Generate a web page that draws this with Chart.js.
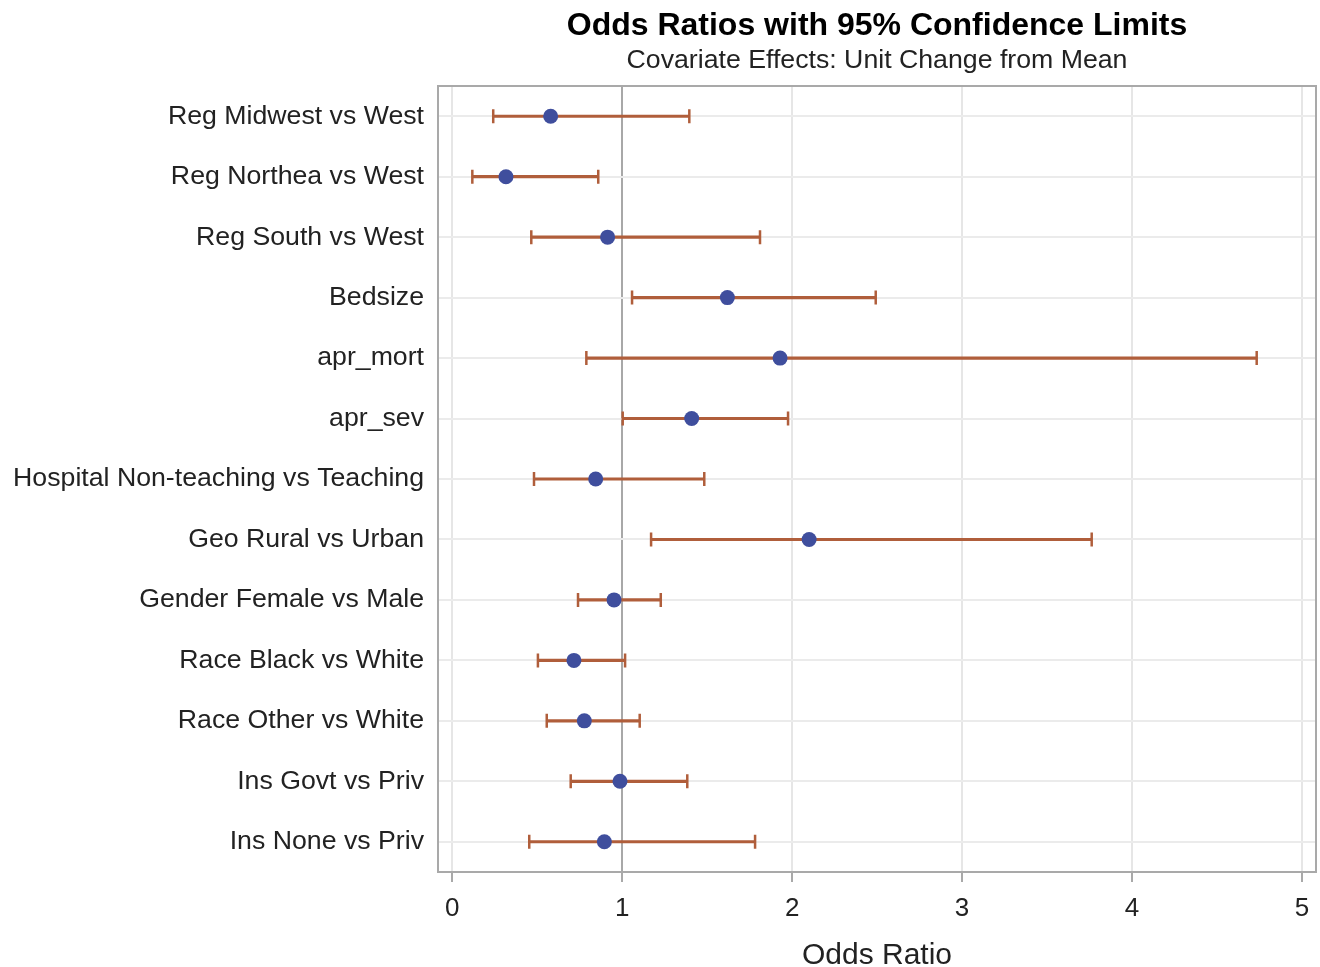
<!DOCTYPE html>
<html>
<head>
<meta charset="utf-8">
<title>Odds Ratios with 95% Confidence Limits</title>
<script src="https://cdn.jsdelivr.net/npm/chart.js@4"></script>
<style>
  html, body { margin: 0; padding: 0; background: #fff; }
  #wrap { width: 1320px; height: 967px; }
</style>
</head>
<body>
<div id="wrap"><canvas id="orChart"></canvas></div>
<script>
const effects = [
    'Reg Midwest vs West', 'Reg Northea vs West', 'Reg South vs West', 'Bedsize',
    'apr_mort', 'apr_sev', 'Hospital Non-teaching vs Teaching', 'Geo Rural vs Urban',
    'Gender Female vs Male', 'Race Black vs White', 'Race Other vs White',
    'Ins Govt vs Priv', 'Ins None vs Priv'
];
const oddsRatio = [0.579, 0.316, 0.914, 1.619, 1.929, 1.409, 0.844, 2.100, 0.952, 0.716, 0.777, 0.987, 0.895];
const lowerCL   = [0.241, 0.118, 0.465, 1.058, 0.789, 1.003, 0.481, 1.170, 0.740, 0.504, 0.556, 0.697, 0.453];
const upperCL   = [1.395, 0.859, 1.811, 2.492, 4.734, 1.976, 1.483, 3.763, 1.227, 1.017, 1.103, 1.383, 1.782];
const xTicks = [0, 1, 2, 3, 4, 5];

const FONT = "'Liberation Sans', Arial, sans-serif";
const ciColor = '#b05e3b';
const dotColor = '#3f4e9d';

// titles are centred over the plot area, plus the frame round it
const framePlugin = {
    id: 'frameAndTitles',
    afterDraw(chart) {
        const { ctx, chartArea: a } = chart;
        ctx.save();
        ctx.strokeStyle = '#a9a9a9';
        ctx.lineWidth = 2;
        ctx.strokeRect(a.left, a.top, a.right - a.left, a.bottom - a.top);
        const cx = (a.left + a.right) / 2;
        ctx.fillStyle = '#000';
        ctx.textAlign = 'center';
        ctx.textBaseline = 'middle';
        ctx.font = 'bold 32px ' + FONT;
        ctx.fillText('Odds Ratios with 95% Confidence Limits', cx, 26);
        ctx.fillStyle = '#222';
        ctx.font = '26.7px ' + FONT;
        ctx.fillText('Covariate Effects: Unit Change from Mean', cx, 61);
        ctx.restore();
    }
};

const capStyle = {
    type: 'line',
    showLine: false,
    pointStyle: 'line',
    rotation: 90,
    pointRadius: 7,
    pointHoverRadius: 7,
    borderColor: ciColor,
    borderWidth: 2.5,
    order: 1
};

new Chart(document.getElementById('orChart'), {
    type: 'bar',
    data: {
        labels: effects,
        datasets: [
            {
                label: 'Odds Ratio',
                type: 'line',
                data: oddsRatio,
                showLine: false,
                pointStyle: 'circle',
                pointRadius: 7.5,
                pointHoverRadius: 7.5,
                pointBackgroundColor: dotColor,
                pointBorderColor: dotColor,
                pointBorderWidth: 0,
                order: 0
            },
            Object.assign({ label: 'Lower CL', data: lowerCL }, capStyle),
            Object.assign({ label: 'Upper CL', data: upperCL }, capStyle),
            {
                label: '95% CL',
                data: effects.map((e, i) => [lowerCL[i], upperCL[i]]),
                backgroundColor: ciColor,
                borderWidth: 0,
                barThickness: 2.5,
                order: 2
            }
        ]
    },
    options: {
        indexAxis: 'y',
        responsive: true,
        maintainAspectRatio: false,
        animation: false,
        layout: { autoPadding: false, padding: { top: 86, left: 10, right: 4, bottom: 0 } },
        plugins: {
            legend: { display: false },
            tooltip: { enabled: false }
        },
        scales: {
            x: {
                type: 'linear',
                min: -0.084,
                max: 5.083,
                afterBuildTicks(scale) {
                    scale.ticks = xTicks.map(v => ({ value: v }));
                },
                afterFit(scale) {
                    scale.height = 95;
                    scale.paddingLeft = 0;
                    scale.paddingRight = 0;
                },
                grid: {
                    color: ctx => (ctx.tick && ctx.tick.value === 1) ? '#a8a8a8' : '#e6e6e6',
                    lineWidth: 2,
                    tickLength: 10,
                    tickColor: '#a9a9a9',
                    tickWidth: 2
                },
                border: { display: false },
                ticks: {
                    font: { family: FONT, size: 26 },
                    color: '#222',
                    padding: 11
                },
                title: {
                    display: true,
                    text: 'Odds Ratio',
                    font: { family: FONT, size: 30 },
                    color: '#222',
                    padding: { top: 0, bottom: -7 }
                }
            },
            y: {
                type: 'category',
                offset: true,
                afterFit(scale) { scale.width = 428; },
                grid: {
                    offset: false,
                    color: '#ebebeb',
                    lineWidth: 2,
                    drawTicks: false
                },
                border: { display: false },
                ticks: {
                    font: { family: FONT, size: 26.7 },
                    color: '#222',
                    padding: 14
                }
            }
        }
    },
    plugins: [framePlugin]
});
</script>
</body>
</html>
